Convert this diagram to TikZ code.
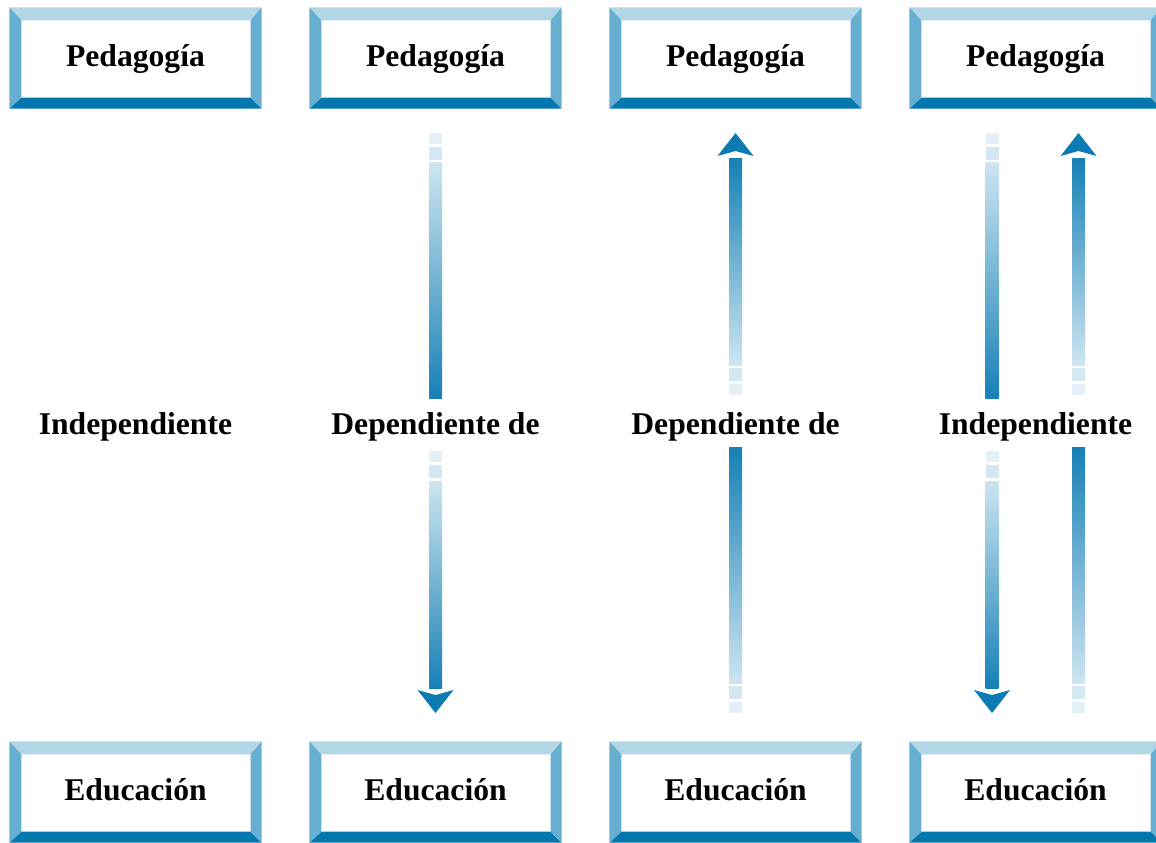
\documentclass[tikz,border=0pt]{standalone}
\usepackage{fontspec}
\setmainfont{Liberation Serif}
\usetikzlibrary{positioning}

\definecolor{bevtop}{HTML}{B1D7E7}
\definecolor{bevside}{HTML}{67AFD0}
\definecolor{bevbottom}{HTML}{0377AE}
\definecolor{flowdark}{HTML}{1780B7}
\definecolor{flowlight}{HTML}{CDE5F0}
\definecolor{dashA}{HTML}{E3F0F7}
\definecolor{dashB}{HTML}{D4E8F2}
\definecolor{headblue}{HTML}{0C7BB4}

% one half of a connector: #1 tail, #2 direction (1 down, -1 up), #3 length of the bar
\newcommand{\flowseg}[3]{%
  \begin{scope}[shift={#1}]
    \fill[dashA] (-0.065,0) rectangle (0.065,{-0.11*#2});
    \fill[dashB] (-0.065,{-0.14*#2}) rectangle (0.065,{-0.27*#2});
    \ifnum#2=1
      \tikzset{flowshade/.style={top color=flowlight, bottom color=flowdark}}
    \else
      \tikzset{flowshade/.style={top color=flowdark, bottom color=flowlight}}
    \fi
    \shade[flowshade] (-0.065,{-0.30*#2}) rectangle (0.065,{-#3*#2});
  \end{scope}}

% arrow head at the end of a half: #1 tail, #2 direction
\newcommand{\flowhead}[2]{%
  \begin{scope}[shift={#1}]
    \fill[headblue] (-0.18,{-2.39*#2}) -- (0,{-2.44*#2}) -- (0.18,{-2.39*#2}) -- (0,{-2.62*#2}) -- cycle;
  \end{scope}}

\begin{document}
\begin{tikzpicture}[node distance=3cm]

% definitions
\tikzstyle{bevelbox} = [rectangle, minimum width=2.51cm, minimum height=1cm, inner sep=0pt, fill=white, text height=0.22cm, text depth=0.05cm, font=\bfseries\fontsize{9pt}{11pt}\selectfont]

\tikzstyle{relation} = [inner sep=0pt, text height=0.22cm, text depth=0.05cm, font=\bfseries\fontsize{9pt}{11pt}\selectfont]

\useasboundingbox (0,0) rectangle (11.56,8.42);
\clip (0,0) rectangle (11.56,8.42);

% the graph
\node (p1) [bevelbox] at (1.355,7.84) {Pedagogía};
\node (p2) [bevelbox, right of=p1] {Pedagogía};
\node (p3) [bevelbox, right of=p2] {Pedagogía};
\node (p4) [bevelbox, right of=p3] {Pedagogía};

\node (m1) [relation, below of=p1, yshift=-0.675cm] {Independiente};
\node (m2) [relation, below of=p2, yshift=-0.675cm] {Dependiente de};
\node (m3) [relation, below of=p3, yshift=-0.675cm] {Dependiente de};
\node (m4) [relation, below of=p4, yshift=-0.675cm] {Independiente};

\node (e1) [bevelbox, below of=p1, yshift=-4.34cm] {Educación};
\node (e2) [bevelbox, right of=e1] {Educación};
\node (e3) [bevelbox, right of=e2] {Educación};
\node (e4) [bevelbox, right of=e3] {Educación};

% bevelled frames
\foreach \b in {p1,p2,p3,p4,e1,e2,e3,e4} {
  \fill[bevtop] (\b.north west) -- (\b.north east) -- ++(-0.11,-0.13) -- ([shift={(0.12,-0.13)}]\b.north west) -- cycle;
  \fill[bevbottom] (\b.south west) -- (\b.south east) -- ++(-0.11,0.11) -- ([shift={(0.12,0.11)}]\b.south west) -- cycle;
  \fill[bevside] (\b.north west) -- ([shift={(0.12,-0.13)}]\b.north west) -- ([shift={(0.12,0.11)}]\b.south west) -- (\b.south west) -- cycle;
  \fill[bevside] (\b.north east) -- ([shift={(-0.11,-0.13)}]\b.north east) -- ([shift={(-0.11,0.11)}]\b.south east) -- (\b.south east) -- cycle;
}

% Pedagogia -> Educacion
\flowseg{([yshift=-0.24cm]p2.south)}{1}{2.66}
\flowseg{([yshift=-0.255cm]m2.center)}{1}{2.37}
\flowhead{([yshift=-0.255cm]m2.center)}{1}

% Educacion -> Pedagogia
\flowseg{([yshift=0.28cm]e3.north)}{-1}{2.66}
\flowseg{([yshift=0.305cm]m3.center)}{-1}{2.37}
\flowhead{([yshift=0.305cm]m3.center)}{-1}

% both ways
\flowseg{([xshift=-0.435cm,yshift=-0.24cm]p4.south)}{1}{2.66}
\flowseg{([xshift=-0.435cm,yshift=-0.255cm]m4.center)}{1}{2.37}
\flowhead{([xshift=-0.435cm,yshift=-0.255cm]m4.center)}{1}
\flowseg{([xshift=0.43cm,yshift=0.28cm]e4.north)}{-1}{2.66}
\flowseg{([xshift=0.43cm,yshift=0.305cm]m4.center)}{-1}{2.37}
\flowhead{([xshift=0.43cm,yshift=0.305cm]m4.center)}{-1}

\end{tikzpicture}
\end{document}
